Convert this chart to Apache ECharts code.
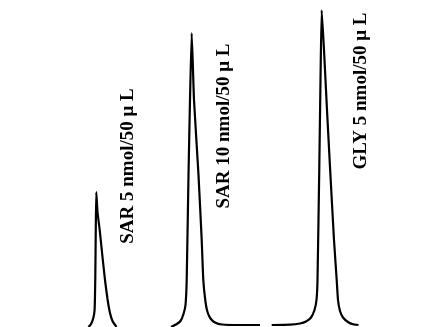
<!DOCTYPE html>
<html>
<head>
<meta charset="utf-8">
<script src="https://cdn.jsdelivr.net/npm/echarts@6/dist/echarts.min.js"></script>
<style>html,body{margin:0;padding:0;background:#fff}#c{width:447px;height:327px}</style>
</head>
<body>
<div id="c"></div>
<script>
// Retention position (x) and detector signal (y)
const peak1X = [88.5, 91, 93.3, 94.6, 95.3, 95.8, 96.3, 97.5, 99.7, 102.5, 105, 107.5, 110, 112.5, 116.5];
const peak1Y = [0, 3, 9, 17, 50, 100, 135, 115, 97, 70, 47, 28, 14, 6, 0];
const peak2X = [171, 176, 180.5, 183.5, 185.5, 186.7, 188.5, 190, 191.7, 194, 198.5, 201.7, 203.3, 205.5, 207.5, 210.5, 215, 222, 240, 260];
const peak2Y = [0, 2.5, 6, 13, 22, 47, 152, 227, 294, 227, 152, 87, 47, 25, 15, 8.5, 4.5, 2.5, 2, 2];
const peak3X = [271.7, 290, 300, 306, 311, 314.5, 316.5, 317.5, 319.3, 320.5, 321.7, 324, 327, 330, 334, 336.7, 338, 340, 343, 348, 353, 358.5];
const peak3Y = [2, 2.3, 3.5, 5.5, 9.5, 17, 27, 47, 160, 247, 317, 277, 217, 160, 87, 47, 27, 16, 9.5, 5, 2.7, 2];
const labelTexts = ['SAR 5 nmol/50 \u03bc L', 'SAR 10 nmol/50 \u03bc L', 'GLY 5 nmol/50 \u03bc L'];
const labelX = [128, 224, 361];
const labelY = [161, 201, 236];

function pairs(xs, ys) { return xs.map((x, i) => [x, ys[i]]); }

const chart = echarts.init(document.getElementById('c'), null, { renderer: 'canvas' });
const lineStyle = { color: '#000', width: 2.2 };
const mk = (i) => ({
  symbol: 'circle', symbolSize: 0, silent: true,
  label: {
    show: true, position: 'inside', rotate: 90, formatter: labelTexts[i],
    fontFamily: 'Liberation Serif', fontSize: 19, fontWeight: 'bold', color: '#000'
  },
  itemStyle: { color: 'transparent' },
  data: [{ coord: [labelX[i], labelY[i]] }]
});
chart.setOption({
  animation: false,
  grid: { left: 0, right: 0, top: 0, bottom: 0 },
  xAxis: { type: 'value', min: 0, max: 447, show: false },
  yAxis: { type: 'value', min: 0, max: 327, show: false },
  series: [
    { type: 'line', data: pairs(peak1X, peak1Y), showSymbol: false, lineStyle, smooth: 0.15, markPoint: mk(0) },
    { type: 'line', data: pairs(peak2X, peak2Y), showSymbol: false, lineStyle, smooth: 0.15, markPoint: mk(1) },
    { type: 'line', data: pairs(peak3X, peak3Y), showSymbol: false, lineStyle, smooth: 0.15, markPoint: mk(2) }
  ]
});
</script>
</body>
</html>
